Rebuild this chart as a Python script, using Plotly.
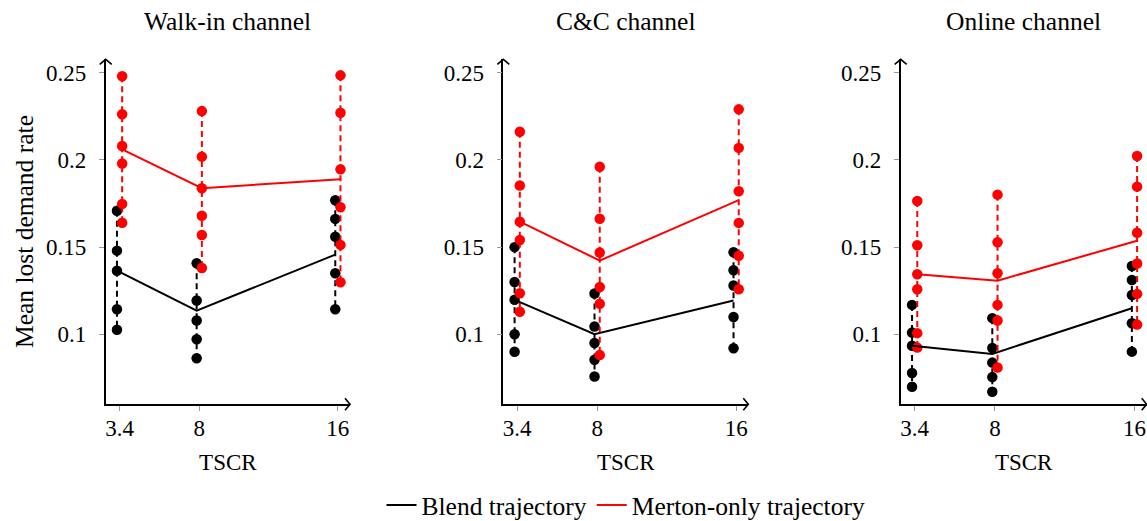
import plotly.graph_objects as go

# ---------------- data ----------------
tscr = [3.4, 8, 16]
tscr_labels = ["3.4", "8", "16"]
channels = ["Walk-in channel", "C&C channel", "Online channel"]
y_ticks = [0.1, 0.15, 0.2, 0.25]
y_tick_labels = ["0.1", "0.15", "0.2", "0.25"]

# Walk-in channel
walkin_blend_mean = [0.1365, 0.1136, 0.1457]
walkin_merton_mean = [0.2060, 0.1838, 0.1890]
walkin_blend_runs = [
    [0.1709, 0.1480, 0.1365, 0.1144, 0.1026],
    [0.1408, 0.1194, 0.1079, 0.0972, 0.0863],
    [0.1769, 0.1662, 0.1560, 0.1350, 0.1144],
]
walkin_merton_runs = [
    [0.2480, 0.2262, 0.2080, 0.1980, 0.1748, 0.1640],
    [0.2280, 0.2019, 0.1838, 0.1680, 0.1570, 0.1380],
    [0.2485, 0.2271, 0.1946, 0.1729, 0.1513, 0.1299],
]

# C&C channel
cc_blend_mean = [0.1198, 0.1001, 0.1194]
cc_merton_mean = [0.1646, 0.1423, 0.1770]
cc_blend_runs = [
    [0.1500, 0.1300, 0.1198, 0.1001, 0.0900],
    [0.1234, 0.1045, 0.0950, 0.0854, 0.0758],
    [0.1471, 0.1368, 0.1280, 0.1100, 0.0920],
]
cc_merton_runs = [
    [0.2162, 0.1853, 0.1646, 0.1541, 0.1236, 0.1130],
    [0.1961, 0.1663, 0.1469, 0.1272, 0.1175, 0.0882],
    [0.2290, 0.2069, 0.1820, 0.1639, 0.1451, 0.1259],
]

# Online channel
online_blend_mean = [0.0935, 0.0888, 0.1150]
online_merton_mean = [0.1345, 0.1308, 0.1537]
online_blend_runs = [
    [0.1169, 0.1010, 0.0935, 0.0778, 0.0700],
    [0.1093, 0.0922, 0.0838, 0.0755, 0.0671],
    [0.1392, 0.1312, 0.1226, 0.1064, 0.0901],
]
online_merton_runs = [
    [0.1765, 0.1511, 0.1345, 0.1259, 0.1007, 0.0924],
    [0.1801, 0.1528, 0.1350, 0.1169, 0.1079, 0.0810],
    [0.2023, 0.1847, 0.1583, 0.1406, 0.1232, 0.1056],
]

panels = [
    (walkin_blend_mean, walkin_merton_mean, walkin_blend_runs, walkin_merton_runs),
    (cc_blend_mean, cc_merton_mean, cc_blend_runs, cc_merton_runs),
    (online_blend_mean, online_merton_mean, online_blend_runs, online_merton_runs),
]

# ---------------- style ----------------
FONT = "Liberation Serif"
FS_TICK = 23
FS_TEXT = 25.5
FS_AXT = 23
BLACK = "#000000"
RED = "#ff0000"
OFFSET = 0.15  # horizontal dodge of the two series
W, H = 1147, 521

x_domains = [(105.7, 350.0), (503.3, 748.3), (900.7, 1146.7)]
y_dom = ((H - 404.3) / H, (H - 59.3) / H)
y_range = [0.0599, 0.2577]
x_range = [2.6, 16.7]

fig = go.Figure()
shapes = []
annotations = []

for i, (bmean, mmean, bruns, mruns) in enumerate(panels):
    n = "" if i == 0 else str(i + 1)
    xa, ya = "x" + n, "y" + n
    bx = [t - OFFSET for t in tscr]
    mx = [t + OFFSET for t in tscr]

    for k in range(len(tscr)):
        fig.add_trace(go.Scatter(
            x=[bx[k]] * len(bruns[k]), y=bruns[k], mode="lines+markers",
            line=dict(color=BLACK, width=2, dash="6px,4px"),
            marker=dict(color=BLACK, size=10.5),
            xaxis=xa, yaxis=ya, showlegend=False, hoverinfo="skip"))
    for k in range(len(tscr)):
        fig.add_trace(go.Scatter(
            x=[mx[k]] * len(mruns[k]), y=mruns[k], mode="lines+markers",
            line=dict(color=RED, width=2, dash="6px,4px"),
            marker=dict(color=RED, size=10.5),
            xaxis=xa, yaxis=ya, showlegend=False, hoverinfo="skip"))

    fig.add_trace(go.Scatter(
        x=bx, y=bmean, mode="lines", line=dict(color=BLACK, width=2),
        name="Blend trajectory", legendgroup="b", showlegend=(i == 0),
        xaxis=xa, yaxis=ya))
    fig.add_trace(go.Scatter(
        x=mx, y=mmean, mode="lines", line=dict(color=RED, width=2),
        name="Merton-only trajectory", legendgroup="m", showlegend=(i == 0),
        xaxis=xa, yaxis=ya))

    d0, d1 = x_domains[i]
    common = dict(showline=True, linecolor=BLACK, linewidth=1.6, showgrid=False,
                  zeroline=False, ticks="outside", ticklen=5, tickwidth=1,
                  automargin=False,
                  tickcolor="#999999", tickfont=dict(family=FONT, size=FS_TICK, color=BLACK))
    fig.layout["xaxis" + n] = dict(
        domain=[d0 / W, d1 / W], range=x_range, anchor=ya,
        tickvals=tscr, ticktext=tscr_labels, ticklabelstandoff=-3,
        title=dict(text="TSCR", font=dict(family=FONT, size=FS_AXT, color=BLACK), standoff=14),
        **common)
    fig.layout["yaxis" + n] = dict(
        domain=list(y_dom), range=y_range, anchor=xa,
        tickvals=y_ticks, ticktext=y_tick_labels, ticklabelstandoff=8,
        **common)

    # arrow heads
    shapes.append(dict(type="path", xref=xa + " domain", yref=ya + " domain",
                       xsizemode="pixel", ysizemode="pixel", xanchor=0, yanchor=1,
                       path="M -6,-5 L 0,0 L 6,-5", line=dict(color=BLACK, width=1.6)))
    shapes.append(dict(type="path", xref=xa + " domain", yref=ya + " domain",
                       xsizemode="pixel", ysizemode="pixel", xanchor=1, yanchor=0,
                       path="M -5,-6 L 0,0 L -5,6", line=dict(color=BLACK, width=1.6)))

    annotations.append(dict(text=channels[i], xref="paper", yref="paper",
                            x=(d0 + d1) / 2 / W, y=(H - 22) / H, showarrow=False,
                            xanchor="center", yanchor="middle",
                            font=dict(family=FONT, size=FS_TEXT, color=BLACK)))

annotations.append(dict(text="Mean lost demand rate", xref="paper", yref="paper",
                        x=24 / W, y=(H - 232) / H, showarrow=False, textangle=-90,
                        xanchor="center", yanchor="middle",
                        font=dict(family=FONT, size=FS_TEXT, color=BLACK)))

fig.update_layout(
    width=W, height=H, margin=dict(l=0, r=0, t=0, b=0, autoexpand=False),
    plot_bgcolor="white", paper_bgcolor="white",
    shapes=shapes, annotations=annotations,
    legend=dict(orientation="h", x=626 / W, xanchor="center", y=-0.015, yanchor="bottom",
                font=dict(family=FONT, size=FS_TEXT, color=BLACK), tracegroupgap=0,
                bgcolor="rgba(0,0,0,0)"),
)

fig.write_html("out.html", config={"displayModeBar": False},
               post_script="document.body.style.margin='0px';")
